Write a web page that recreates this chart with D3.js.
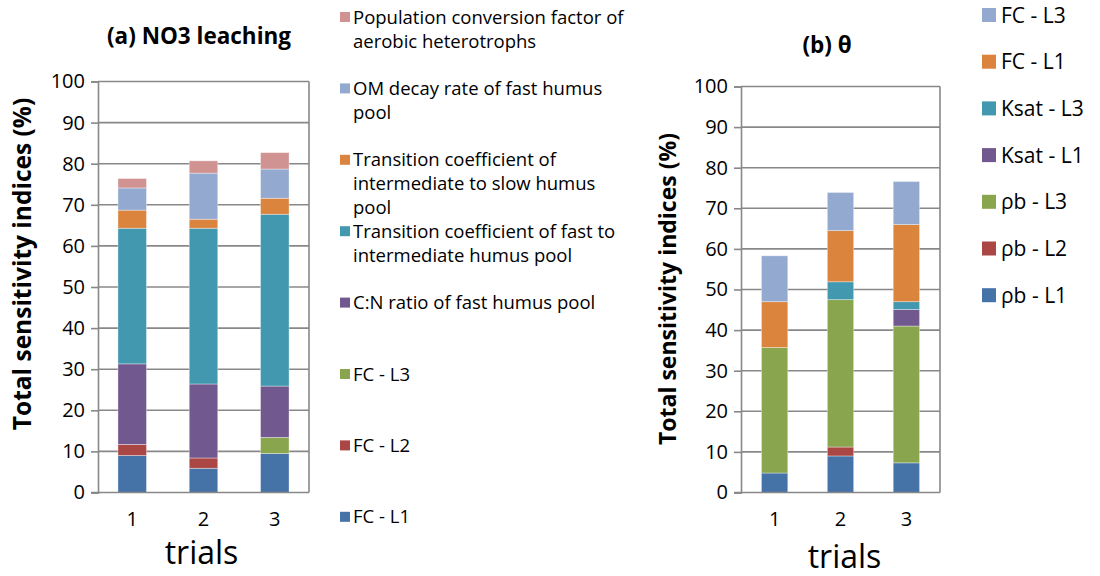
<!DOCTYPE html>
<html>
<head>
<meta charset="utf-8">
<script src="https://cdn.jsdelivr.net/npm/d3@7/dist/d3.min.js"></script>
<style>
  html, body { margin: 0; padding: 0; background: #fff; }
  svg { display: block; font-family: "Open Sans", "Noto Sans", sans-serif; }
</style>
</head>
<body>
<svg id="chart" width="1100" height="576"></svg>
<script>
// Trials on the x axis
const trials = ["1", "2", "3"];
const yTicks = [0, 10, 20, 30, 40, 50, 60, 70, 80, 90, 100];

// (a) NO3 leaching: parameters, bottom of stack first
const no3Params = [
  "FC - L1",
  "FC - L2",
  "FC - L3",
  "C:N ratio of fast humus pool",
  "Transition coefficient of fast to\nintermediate humus pool",
  "Transition coefficient of\nintermediate to slow humus\npool",
  "OM decay rate of fast humus\npool",
  "Population conversion factor of\naerobic heterotrophs"
];
// one value per trial, same order as no3Params
const no3FcL1   = [9.0, 5.9, 9.5];
const no3FcL2   = [2.7, 2.5, 0.0];
const no3FcL3   = [0.0, 0.0, 3.9];
const no3CN     = [19.6, 18.0, 12.5];
const no3FastInt = [33.0, 37.9, 41.8];
const no3IntSlow = [4.4, 2.2, 3.9];
const no3OMDecay = [5.4, 11.2, 7.1];
const no3PopConv = [2.3, 3.0, 4.0];
const no3Values = [no3FcL1, no3FcL2, no3FcL3, no3CN, no3FastInt, no3IntSlow, no3OMDecay, no3PopConv];

// (b) θ: parameters, bottom of stack first
const thetaParams = ["ρb - L1", "ρb - L2", "ρb - L3", "Ksat - L1", "Ksat - L3", "FC - L1", "FC - L3"];
const thRhoL1  = [4.8, 9.0, 7.3];
const thRhoL2  = [0.0, 2.2, 0.0];
const thRhoL3  = [30.9, 36.3, 33.7];
const thKsatL1 = [0.0, 0.0, 4.1];
const thKsatL3 = [0.0, 4.4, 1.9];
const thFcL1   = [11.3, 12.6, 19.0];
const thFcL3   = [11.3, 9.4, 10.6];
const thetaValues = [thRhoL1, thRhoL2, thRhoL3, thKsatL1, thKsatL3, thFcL1, thFcL3];

const no3Colors = ["#4572A7", "#AA4643", "#89A54E", "#71588F", "#4198AF", "#DB843D", "#93A9CF", "#D19392"];
const thetaColors = ["#4572A7", "#AA4643", "#89A54E", "#71588F", "#4198AF", "#DB843D", "#93A9CF"];

const svg = d3.select("#chart");
const gridColor = "#888888";

function drawPanel(opt) {
  const rows = trials.map((t, i) => {
    const r = { trial: t };
    opt.params.forEach((p, k) => { r[p] = opt.values[k][i]; });
    return r;
  });
  const series = d3.stack().keys(opt.params)(rows);

  const x = d3.scaleBand().domain(trials)
    .range([opt.left, opt.right]).paddingInner(0.6).paddingOuter(opt.outer);
  const y = d3.scaleLinear().domain([0, 100]).range([opt.bottom, opt.top]);

  const g = svg.append("g");

  // horizontal gridlines
  g.append("g").selectAll("line").data(yTicks.filter(d => d > 0)).join("line")
    .attr("x1", opt.left).attr("x2", opt.right)
    .attr("y1", d => y(d)).attr("y2", d => y(d))
    .attr("stroke", gridColor).attr("stroke-width", 1.6);
  // right frame edge
  g.append("line").attr("x1", opt.right).attr("x2", opt.right)
    .attr("y1", y(100)).attr("y2", y(0))
    .attr("stroke", gridColor).attr("stroke-width", 1.6);

  // stacked bars
  g.append("g").selectAll("g").data(series).join("g")
    .attr("fill", (d, i) => opt.colors[i])
    .selectAll("rect").data(d => d.filter(s => s[1] - s[0] > 0)).join("rect")
    .attr("x", d => x(d.data.trial))
    .attr("width", x.bandwidth())
    .attr("y", d => y(d[1]))
    .attr("height", d => y(d[0]) - y(d[1]))
    .attr("stroke", "#ffffff").attr("stroke-opacity", 0.45).attr("stroke-width", 0.8);

  // y axis
  const ya = g.append("g").attr("transform", `translate(${opt.left},0)`)
    .call(d3.axisLeft(y).tickValues(yTicks).tickSize(7).tickPadding(6));
  ya.select(".domain").attr("stroke", gridColor).attr("stroke-width", 1.6);
  ya.selectAll(".tick line").attr("stroke", gridColor).attr("stroke-width", 1.6);
  ya.selectAll(".tick text").attr("font-size", 20).attr("fill", "#000")
    .attr("font-family", "'Open Sans', sans-serif");

  // x axis
  const xa = g.append("g").attr("transform", `translate(0,${opt.bottom})`)
    .call(d3.axisBottom(x).tickSize(0).tickPadding(19));
  xa.select(".domain").remove();
  g.append("line").attr("x1", opt.left - 7).attr("x2", opt.right)
    .attr("y1", opt.bottom).attr("y2", opt.bottom)
    .attr("stroke", gridColor).attr("stroke-width", 1.6);
  xa.selectAll(".tick text").attr("font-size", 20).attr("fill", "#000")
    .attr("font-family", "'Open Sans', sans-serif");

  // titles
  g.append("text").attr("x", opt.titleX).attr("y", opt.titleY)
    .attr("text-anchor", "middle").attr("font-weight", "bold").attr("font-size", 22.5)
    .text(opt.title);
  g.append("text").attr("x", (opt.left + opt.right) / 2 + opt.trialsDx).attr("y", opt.trialsY)
    .attr("text-anchor", "middle").attr("font-size", 32).text("trials");
  g.append("text")
    .attr("transform", `translate(${opt.yTitleX},${opt.yTitleY}) rotate(-90)`)
    .attr("text-anchor", "middle").attr("font-weight", "bold").attr("font-size", opt.yTitleSize)
    .text("Total sensitivity indices (%)");

  // legend, top entry is the top of the stack
  const items = opt.params.map((p, i) => ({ label: p, color: opt.colors[i] })).reverse();
  const lg = g.append("g").selectAll("g").data(items).join("g")
    .attr("transform", (d, i) => `translate(${opt.legX},${opt.legY + i * opt.legStep})`);
  lg.append("rect").attr("x", 0).attr("y", -opt.sw / 2)
    .attr("width", opt.sw).attr("height", opt.sw).attr("fill", d => d.color);
  lg.append("text").attr("x", opt.sw + opt.gap).attr("y", opt.legFont * 0.36)
    .attr("font-size", opt.legFont).attr("fill", "#000")
    .selectAll("tspan").data(d => d.label.split("\n")).join("tspan")
    .attr("x", opt.sw + opt.gap).attr("dy", (d, i) => i === 0 ? 0 : opt.lineH)
    .text(d => d);
}

drawPanel({
  params: no3Params, values: no3Values, colors: no3Colors,
  left: 98, right: 309, top: 81.5, bottom: 492.5, outer: 0.28,
  title: "(a) NO3 leaching", titleX: 199, titleY: 44,
  trialsDx: -2, trialsY: 564,
  yTitleX: 31, yTitleY: 264, yTitleSize: 24.5,
  legX: 340, legY: 17, legStep: 71.4, sw: 10, gap: 3, legFont: 18.5, lineH: 24
});

drawPanel({
  params: thetaParams, values: thetaValues, colors: thetaColors,
  left: 741, right: 940, top: 86.5, bottom: 492.5, outer: 0.31,
  title: "(b) θ", titleX: 827, titleY: 53,
  trialsDx: 4, trialsY: 568,
  yTitleX: 676, yTitleY: 289, yTitleSize: 23,
  legX: 982, legY: 15, legStep: 46.7, sw: 14, gap: 5, legFont: 21, lineH: 24
});
</script>
</body>
</html>
